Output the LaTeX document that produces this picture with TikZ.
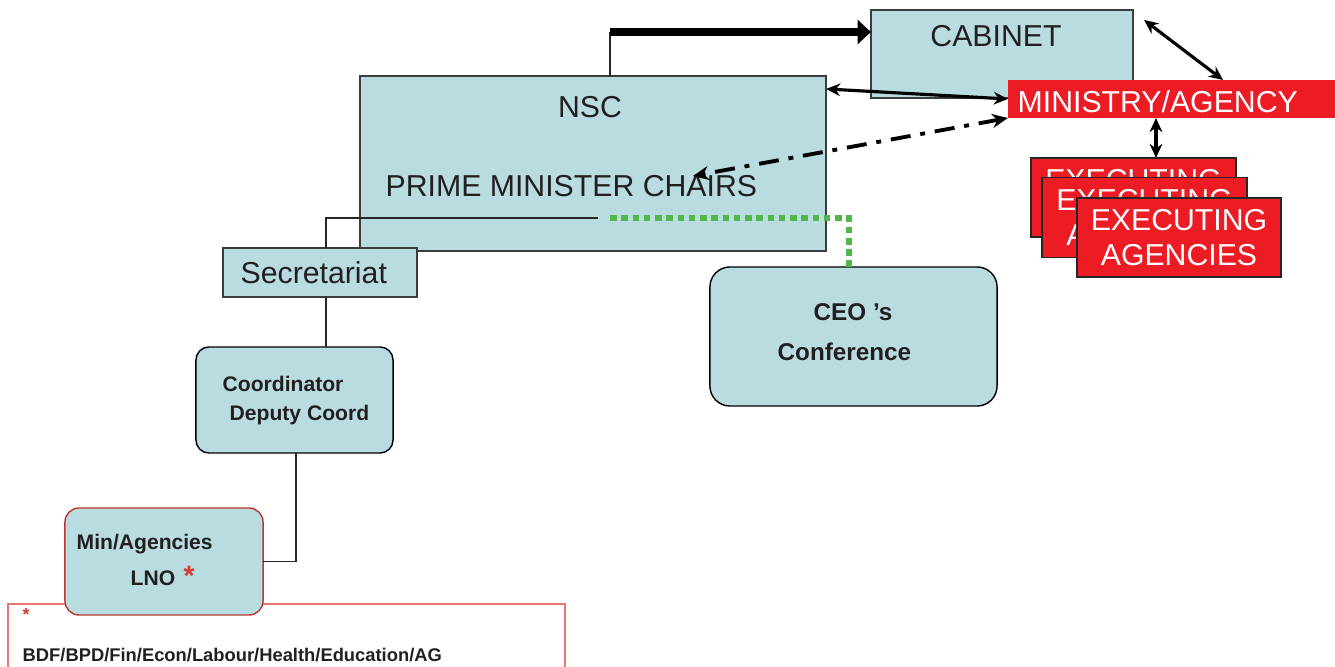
\documentclass[tikz,border=0pt]{standalone}
\usepackage{fontspec}
\setmainfont{Liberation Sans}
\usetikzlibrary{arrows.meta}

\definecolor{boxblue}{HTML}{B8DCE0}
\definecolor{boxred}{HTML}{ED1C24}
\definecolor{dotgreen}{HTML}{50B848}
\definecolor{edgegray}{HTML}{3C3C3C}
\definecolor{textgray}{HTML}{231F20}
\definecolor{starred}{HTML}{D63A2F}
\definecolor{noteedge}{HTML}{E8776E}
\definecolor{minedge}{HTML}{B8392C}

\newcommand\bigfont{\fontsize{8.6}{9.9}\selectfont}
\newcommand\smallbold{\fontsize{6}{7}\selectfont\bfseries}
\newcommand\ceofont{\fontsize{6.9}{8}\selectfont\bfseries}
\newcommand\notefont{\fontsize{5.22}{6.4}\selectfont\bfseries}

\tikzset{
  bluebox/.style={draw=edgegray, fill=boxblue, line width=0.4pt, inner sep=0pt, outer sep=0pt},
  roundbox/.style={bluebox, draw=black, rounded corners=3.7pt},
  redbox/.style={draw=black!85, fill=boxred, text=white, line width=0.4pt,
    inner sep=0pt, outer sep=0pt, font=\bigfont, align=center},
  notebox/.style={draw=noteedge, line width=0.4pt, inner sep=0pt, outer sep=0pt},
  bigtext/.style={text=textgray, font=\bigfont, inner sep=0pt, anchor=base west},
  boldtext/.style={text=textgray, font=\smallbold, inner sep=0pt, anchor=base west},
  link/.style={draw=black!85, line width=0.4pt},
  bigarrow/.style={line width=2.3pt, -{Triangle[length=3.8pt,width=6.8pt]}},
  dblarrow/.style={line width=0.9pt, {Stealth[length=4pt,width=3.6pt]}-{Stealth[length=4pt,width=3.6pt]}},
  dashdot/.style={line width=1.1pt, dash pattern=on 5.7pt off 2.8pt on 1.4pt off 2.8pt,
    {Stealth[length=4.5pt,width=4pt]}-{Stealth[length=4.5pt,width=4pt]}},
  greendots/.style={draw=dotgreen, line width=1.9pt, dash pattern=on 1.9pt off 1.3pt}
}

\begin{document}
\begin{tikzpicture}[x=0.01cm, y=-0.01cm]
  \useasboundingbox (0,0) rectangle (1335,667);

  % footnote box, the Min/Agencies box sits over its top edge
  \node[notebox, minimum width=5.57cm, minimum height=1.00cm] (note) at (286.5,654) {};
  \node[text=starred, font=\fontsize{5}{6}\selectfont\bfseries, inner sep=0pt, anchor=base west] (notestar) at (22,621) {*};
  \node[boldtext, font=\notefont] (notetext) at (22,662) {BDF/BPD/Fin/Econ/Labour/Health/Education/AG};

  % NSC and cabinet
  \node[bluebox, minimum width=4.66cm, minimum height=1.75cm] (nsc) at (593,163.5) {};
  \node[bigtext, anchor=base] (nsctext) at (590,118) {NSC};
  \node[bigtext] (pmtext) at (385,197) {PRIME MINISTER CHAIRS};
  \node[bluebox, minimum width=2.62cm, minimum height=0.88cm] (cabinet) at (1002,54) {};
  \node[bigtext, anchor=base] (cabtext) at (996,47) {CABINET};

  \coordinate (cabturn) at (610,32);
  \draw[link] (cabturn |- nsc.north) -- (cabturn);
  \draw[bigarrow] (cabturn) -- (cabturn -| cabinet.west);

  % ministry and executing agencies
  \node[redbox, draw=none, minimum width=3.34cm, minimum height=0.38cm] (ministry) at (1175,99) {};
  \node[bigtext, text=white] (mintext) at (1017,113) {MINISTRY/AGENCY};

  \draw[dblarrow] ([yshift=-0.13cm]nsc.north east) -- (ministry.west);
  \draw[dblarrow] ([shift={(0.11cm,-0.10cm)}]cabinet.north east) -- ([xshift=0.48cm]ministry.north);
  \coordinate (chairs) at (693,176);
  \draw[dashdot] (ministry.south west) -- (chairs);

  \node[redbox, minimum width=2.05cm, minimum height=0.79cm] (exec1) at (1133.5,197.5) {EXECUTING\\AGENCIES};
  \node[redbox, minimum width=2.05cm, minimum height=0.80cm] (exec2) at (1144.5,217.5) {EXECUTING\\AGENCIES};
  \node[redbox, minimum width=2.04cm, minimum height=0.79cm] (exec3) at (1179,237.5) {EXECUTING\\AGENCIES};
  \draw[dblarrow, line width=1.2pt] ([xshift=-0.19cm]ministry.south) -- ([xshift=-0.19cm]ministry.south |- exec1.north);

  % secretariat and CEO's conference
  \node[bluebox, minimum width=1.94cm, minimum height=0.49cm] (secretariat) at (320,272.5) {};
  \node[bigtext] (sectext) at (240,284) {Secretariat};
  \node[roundbox, rounded corners=5.7pt, minimum width=2.87cm, minimum height=1.39cm] (ceo) at (853.5,336.5) {};
  \node[boldtext, font=\ceofont] (ceotext) at (813,321) {CEO 's};
  \node[boldtext, font=\ceofont] (conftext) at (777,361) {Conference};

  \coordinate (nscline) at (598,218);
  \coordinate (greenstart) at (610,218);
  \draw[link] ([xshift=0.06cm]secretariat.north) |- (nscline);
  \draw[greendots] (greenstart) -| ([xshift=-0.045cm]ceo.north);

  % coordinator and Min/Agencies
  \node[roundbox, minimum width=1.97cm, minimum height=1.06cm] (coord) at (294.5,400) {};
  \node[boldtext] (coordtext) at (222,392) {Coordinator};
  \node[boldtext] (deputytext) at (229,421) {Deputy Coord};
  \node[roundbox, draw=minedge, rounded corners=4pt, minimum width=1.98cm, minimum height=1.07cm] (minag) at (164,561.5) {};
  \node[boldtext] (mintext2) at (76,550) {Min/Agencies};
  \node[boldtext] (lnotext) at (130,586) {LNO\hspace{0.4em}\textcolor{starred}{\fontsize{8}{9}\selectfont *}};

  \draw[link] ([xshift=0.06cm]secretariat.south) -- ([xshift=0.06cm]secretariat.south |- coord.north);
  \draw[link] ([xshift=0.015cm]coord.south) |- (minag.east);
\end{tikzpicture}
\end{document}
